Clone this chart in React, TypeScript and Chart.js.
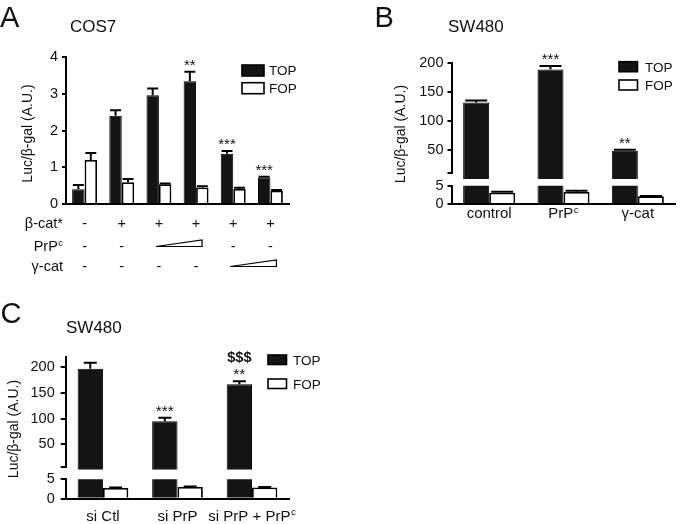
import React, { useEffect, useRef } from 'react';
import { Chart, registerables } from 'chart.js';

Chart.register(...registerables);

const FONT = '"Liberation Sans", Arial, Helvetica, sans-serif';
const W = 700;
const H = 524;

// ---------------- Panel A (COS7) ----------------
const catsA = ['ctrl', 'β-cat*', 'β-cat* + PrPc low', 'β-cat* + PrPc high', 'β-cat* + γ-cat low', 'β-cat* + γ-cat high'];
const topA = [0.40, 2.40, 2.96, 3.34, 1.37, 0.72];
const topErrA = [0.12, 0.15, 0.18, 0.26, 0.07, 0.02];
const fopA = [1.20, 0.59, 0.54, 0.45, 0.41, 0.36];
const fopErrA = [0.19, 0.09, 0.02, 0.03, 0.03, 0.02];
const starsA = ['', '', '', '**', '***', '***'];
const yTicksA = [0, 1, 2, 3, 4];
const betaCatRow = ['-', '+', '+', '+', '+', '+'];
const prpRow = ['-', '-', '', '', '-', '-'];
const gammaRow = ['-', '-', '-', '-', '', ''];
const prpRamp = [2, 3];
const gammaRamp = [4, 5];

// ---------------- Panel B (SW480) ----------------
const catsB = ['control', 'PrP^c', 'γ-cat'];
const topB = [132, 189, 49];
const topErrB = [3.5, 5.8, 1.5];
const fopB = [3.1, 3.3, 2.1];
const fopErrB = [0.25, 0.3, 0.1];
const starsB = ['', '***', '**'];
const yTicksBUpper = [10, 50, 100, 150, 200];
const yTicksBLower = [0, 5];

// ---------------- Panel C (SW480, siRNA) ----------------
const catsC = ['si Ctl', 'si PrP', 'si PrP + PrP^c'];
const topC = [197, 95, 167];
const topErrC = [12, 6.5, 5.6];
const fopC = [2.77, 3.0, 2.9];
const fopErrC = [0.12, 0.15, 0.1];
const starsC = ['', '***', '**'];
const dollarsC = ['', '', '$$$'];
const yTicksCUpper = [5, 50, 100, 150, 200];
const yTicksCLower = [0, 5];

const seriesNames = ['TOP', 'FOP'];
const yTitle = 'Luc/β-gal (A.U.)';

type Area = { l: number; t: number; r: number; b: number };
type TextItem = { text: string; x: number; y: number; size: number; bold?: boolean; align?: 'left' | 'center' | 'right' };
type Decor = {
  texts?: TextItem[];
  yTitle?: { text: string; x: number; y: number; size: number };
  legend?: { x: number; y: number; boxW: number; boxH: number; gap: number; textDx: number; size: number };
  errors?: (number[] | null)[];
  capHalf?: number;
  marks?: { dataset: number; labels: string[]; dy: number; size: number; bold?: boolean }[];
  xLabels?: { labels: string[]; y: number; size: number };
  rows?: { label: string; signs: string[]; ramp?: number[]; y: number }[];
  rowLabelX?: number;
  rowSize?: number;
};
type Spec = {
  area: Area;
  yAxisW: number;
  min: number;
  max: number;
  ticks: number[];
  hidden: number[];
  tickLen: number;
  tickPad: number;
  tickSize: number;
  labels: string[];
  top: (number | null)[];
  fop: (number | null)[];
  catPct: number;
  xBorder: boolean;
  decor: Decor;
};

function richText(ctx: CanvasRenderingContext2D, text: string, x: number, y: number, size: number, align: 'left' | 'center' | 'right' = 'left', bold = false) {
  const parts = text.split('^');
  const main = parts[0];
  const sup = parts[1];
  const mainFont = `${bold ? 'bold ' : ''}${size}px ${FONT}`;
  const supSize = size * 0.65;
  const supFont = `${supSize}px ${FONT}`;
  ctx.font = mainFont;
  const wMain = ctx.measureText(main).width;
  let wSup = 0;
  if (sup) {
    ctx.font = supFont;
    wSup = ctx.measureText(sup).width + 0.5;
  }
  const total = wMain + wSup;
  const x0 = align === 'center' ? x - total / 2 : align === 'right' ? x - total : x;
  ctx.textAlign = 'left';
  ctx.textBaseline = 'alphabetic';
  ctx.font = mainFont;
  ctx.fillText(main, x0, y);
  if (sup) {
    ctx.font = supFont;
    ctx.fillText(sup, x0 + wMain + 0.5, y - size * 0.36);
  }
}

function makeDecor(d: Decor) {
  return {
    id: 'decor',
    afterDraw(chart: any) {
      const ctx: CanvasRenderingContext2D = chart.ctx;
      const xs = chart.scales.x;
      const ys = chart.scales.y;
      ctx.save();
      ctx.fillStyle = '#111';
      ctx.strokeStyle = '#000';

      const errTop = (di: number, i: number): number | null => {
        const data = chart.data.datasets[di].data as (number | null)[];
        const v = data[i];
        if (v == null || v > ys.max || v < ys.min) return null;
        const e = d.errors && d.errors[di] ? (d.errors[di] as number[])[i] : 0;
        return ys.getPixelForValue(v + e);
      };

      // error bars
      (d.errors || []).forEach((errs, di) => {
        if (!errs) return;
        const meta = chart.getDatasetMeta(di);
        meta.data.forEach((el: any, i: number) => {
          const yTop = errTop(di, i);
          if (yTop == null) return;
          const half = d.capHalf || 6;
          ctx.lineWidth = 2;
          ctx.beginPath();
          ctx.moveTo(el.x, el.y);
          ctx.lineTo(el.x, yTop);
          ctx.moveTo(el.x - half, yTop);
          ctx.lineTo(el.x + half, yTop);
          ctx.stroke();
        });
      });

      // significance marks
      (d.marks || []).forEach((m) => {
        const meta = chart.getDatasetMeta(m.dataset);
        meta.data.forEach((el: any, i: number) => {
          const lab = m.labels[i];
          if (!lab) return;
          const yTop = errTop(m.dataset, i);
          if (yTop == null) return;
          richText(ctx, lab, el.x, yTop + m.dy, m.size, 'center', !!m.bold);
        });
      });

      // category labels
      if (d.xLabels) {
        const xl = d.xLabels;
        xl.labels.forEach((lab, i) => {
          richText(ctx, lab, xs.getPixelForValue(i), xl.y, xl.size, 'center');
        });
      }

      // condition rows (panel A)
      if (d.rows) {
        const size = d.rowSize || 14;
        d.rows.forEach((row) => {
          richText(ctx, row.label, d.rowLabelX || 0, row.y, size, 'right');
          row.signs.forEach((s, i) => {
            if (!s) return;
            richText(ctx, s, xs.getPixelForValue(i), row.y, size, 'center');
          });
          if (row.ramp) {
            const x0 = xs.getPixelForValue(row.ramp[0]) - 3;
            const x1 = xs.getPixelForValue(row.ramp[1]) + 6;
            const yb = row.y - 4.5;
            const yt = yb - 6.5;
            ctx.beginPath();
            ctx.moveTo(x0, yb);
            ctx.lineTo(x1, yt);
            ctx.lineTo(x1, yb);
            ctx.closePath();
            ctx.fillStyle = '#fff';
            ctx.fill();
            ctx.lineWidth = 1.2;
            ctx.strokeStyle = '#000';
            ctx.stroke();
            ctx.fillStyle = '#111';
          }
        });
      }

      // legend
      if (d.legend) {
        const lg = d.legend;
        chart.data.datasets.forEach((ds: any, i: number) => {
          const by = lg.y + i * lg.gap;
          ctx.fillStyle = ds.backgroundColor;
          ctx.fillRect(lg.x, by, lg.boxW, lg.boxH);
          ctx.lineWidth = 1.6;
          ctx.strokeStyle = '#000';
          ctx.strokeRect(lg.x, by, lg.boxW, lg.boxH);
          ctx.fillStyle = '#111';
          richText(ctx, ds.label, lg.x + lg.textDx, by + lg.boxH / 2 + lg.size * 0.36, lg.size, 'left');
        });
      }

      // y title
      if (d.yTitle) {
        const yt = d.yTitle;
        ctx.save();
        ctx.translate(yt.x, yt.y);
        ctx.rotate(-Math.PI / 2);
        ctx.font = `${yt.size}px ${FONT}`;
        ctx.textAlign = 'center';
        ctx.textBaseline = 'middle';
        ctx.fillStyle = '#111';
        ctx.fillText(yt.text, 0, 0);
        ctx.restore();
      }

      // free texts
      (d.texts || []).forEach((t) => {
        ctx.fillStyle = '#111';
        richText(ctx, t.text, t.x, t.y, t.size, t.align || 'left', !!t.bold);
      });

      ctx.restore();
    },
  };
}

function buildConfig(s: Spec): any {
  const barData = (arr: (number | null)[]) => arr.map((v) => (v == null || v < s.min ? null : v));
  return {
    type: 'bar',
    data: {
      labels: s.labels,
      datasets: [
        {
          label: seriesNames[0],
          data: barData(s.top),
          backgroundColor: '#141414',
          borderColor: '#000',
          borderWidth: 1,
          barPercentage: 1,
          categoryPercentage: s.catPct,
          clip: { left: 10, right: 10, top: 0, bottom: 10 },
        },
        {
          label: seriesNames[1],
          data: barData(s.fop),
          backgroundColor: '#ffffff',
          borderColor: '#000',
          borderWidth: 1.8,
          barPercentage: 1,
          categoryPercentage: s.catPct,
          clip: { left: 10, right: 10, top: 0, bottom: 10 },
        },
      ],
    },
    options: {
      responsive: false,
      maintainAspectRatio: false,
      animation: false,
      devicePixelRatio: 1,
      events: [],
      layout: {
        padding: { left: s.area.l - s.yAxisW, top: s.area.t, right: W - s.area.r, bottom: 0 },
      },
      plugins: {
        legend: { display: false },
        tooltip: { enabled: false },
        title: { display: false },
      },
      scales: {
        x: {
          type: 'category',
          offset: true,
          grid: { display: false },
          border: { display: s.xBorder, color: '#000', width: 2 },
          ticks: { display: false },
          afterFit: (sc: any) => {
            sc.height = H - s.area.b;
          },
        },
        y: {
          type: 'linear',
          min: s.min,
          max: s.max,
          grid: {
            display: true,
            drawOnChartArea: false,
            drawTicks: true,
            tickLength: s.tickLen,
            color: '#000',
            lineWidth: 2,
          },
          border: { display: true, color: '#000', width: 2 },
          ticks: {
            autoSkip: false,
            color: '#111',
            padding: s.tickPad,
            font: { family: FONT, size: s.tickSize },
            callback: (v: number) => (s.hidden.includes(v) ? '' : String(v)),
          },
          afterBuildTicks: (sc: any) => {
            sc.ticks = s.ticks.map((v) => ({ value: v }));
          },
          afterFit: (sc: any) => {
            sc.width = s.yAxisW;
          },
        },
      },
    },
    plugins: [makeDecor(s.decor)],
  };
}

const specs: Spec[] = [
  // Panel A
  {
    area: { l: 66, t: 57, r: 289, b: 204 },
    yAxisW: 66,
    min: 0,
    max: 4,
    ticks: yTicksA,
    hidden: [],
    tickLen: 4,
    tickPad: 4,
    tickSize: 14.5,
    labels: catsA,
    top: topA,
    fop: fopA,
    catPct: 0.67,
    xBorder: true,
    decor: {
      errors: [topErrA, fopErrA],
      capHalf: 5.5,
      marks: [{ dataset: 0, labels: starsA, dy: -2, size: 15 }],
      legend: { x: 242, y: 65, boxW: 22, boxH: 11, gap: 17.7, textDx: 27, size: 13.5 },
      yTitle: { text: yTitle, x: 28, y: 133.5, size: 14 },
      texts: [
        { text: 'A', x: 0, y: 27, size: 29 },
        { text: 'COS7', x: 70, y: 32, size: 17 },
      ],
      rows: [
        { label: 'β-cat*', signs: betaCatRow, y: 227.5 },
        { label: 'PrP^c', signs: prpRow, ramp: prpRamp, y: 251 },
        { label: 'γ-cat', signs: gammaRow, ramp: gammaRamp, y: 271 },
      ],
      rowLabelX: 63,
      rowSize: 14.5,
    },
  },
  // Panel B upper
  {
    area: { l: 452, t: 63, r: 675, b: 173.3 },
    yAxisW: 90,
    min: 10,
    max: 200,
    ticks: yTicksBUpper,
    hidden: [10],
    tickLen: 4.5,
    tickPad: 4,
    tickSize: 14.5,
    labels: catsB,
    top: topB,
    fop: fopB,
    catPct: 0.7,
    xBorder: false,
    decor: {
      errors: [topErrB, fopErrB],
      capHalf: 11,
      marks: [{ dataset: 0, labels: starsB, dy: -2, size: 15 }],
      legend: { x: 619, y: 61.7, boxW: 18.5, boxH: 10, gap: 18.3, textDx: 26, size: 13.5 },
      yTitle: { text: yTitle, x: 401.5, y: 134, size: 14 },
      texts: [
        { text: 'B', x: 374.5, y: 27, size: 29 },
        { text: 'SW480', x: 448, y: 32.3, size: 17 },
      ],
    },
  },
  // Panel B lower
  {
    area: { l: 452, t: 185.7, r: 675, b: 204 },
    yAxisW: 90,
    min: 0,
    max: 5,
    ticks: yTicksBLower,
    hidden: [],
    tickLen: 4.5,
    tickPad: 4,
    tickSize: 14.5,
    labels: catsB,
    top: topB,
    fop: fopB,
    catPct: 0.7,
    xBorder: true,
    decor: {
      errors: [topErrB, fopErrB],
      capHalf: 11,
      xLabels: { labels: catsB, y: 218, size: 15 },
    },
  },
  // Panel C upper
  {
    area: { l: 65.7, t: 357, r: 289.3, b: 467.3 },
    yAxisW: 65.7,
    min: 5,
    max: 220,
    ticks: yTicksCUpper,
    hidden: [5],
    tickLen: 5,
    tickPad: 6,
    tickSize: 14.5,
    labels: catsC,
    top: topC,
    fop: fopC,
    catPct: 0.68,
    xBorder: false,
    decor: {
      errors: [topErrC, fopErrC],
      capHalf: 6.5,
      marks: [
        { dataset: 0, labels: starsC, dy: -2, size: 15.5 },
        { dataset: 0, labels: dollarsC, dy: -19, size: 14.5, bold: true },
      ],
      legend: { x: 268, y: 355, boxW: 18.5, boxH: 9.5, gap: 24, textDx: 25, size: 13.5 },
      yTitle: { text: yTitle, x: 14, y: 429, size: 14 },
      texts: [
        { text: 'C', x: 0.5, y: 322.5, size: 29 },
        { text: 'SW480', x: 66, y: 332.7, size: 17 },
      ],
    },
  },
  // Panel C lower
  {
    area: { l: 65.7, t: 479.3, r: 289.3, b: 498.7 },
    yAxisW: 65.7,
    min: 0,
    max: 5,
    ticks: yTicksCLower,
    hidden: [],
    tickLen: 5,
    tickPad: 6,
    tickSize: 14.5,
    labels: catsC,
    top: topC,
    fop: fopC,
    catPct: 0.68,
    xBorder: true,
    decor: {
      errors: [topErrC, fopErrC],
      capHalf: 6.5,
      xLabels: { labels: catsC, y: 520.5, size: 15 },
    },
  },
];

export default function App() {
  const canvases = useRef<(HTMLCanvasElement | null)[]>([]);
  useEffect(() => {
    const charts = specs.map((s, i) => new Chart(canvases.current[i] as HTMLCanvasElement, buildConfig(s)));
    return () => charts.forEach((c) => c.destroy());
  }, []);
  return (
    <div style={{ position: 'absolute', left: 0, top: 0, width: W, height: H, background: '#fff', overflow: 'hidden' }}>
      {specs.map((_, i) => (
        <canvas
          key={i}
          ref={(el) => {
            canvases.current[i] = el;
          }}
          width={W}
          height={H}
          style={{ position: 'absolute', left: 0, top: 0, width: W, height: H }}
        />
      ))}
    </div>
  );
}
